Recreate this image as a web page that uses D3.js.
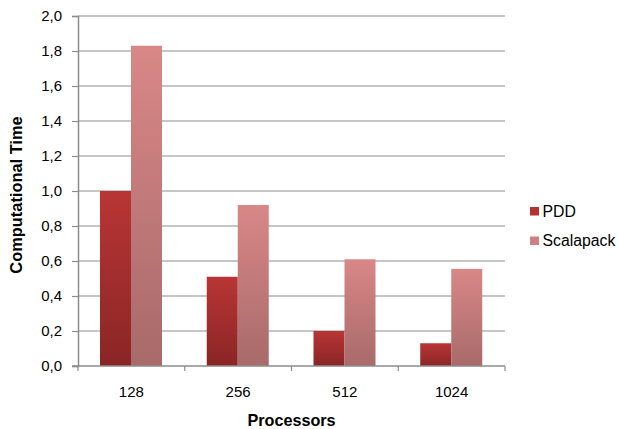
<!DOCTYPE html>
<html>
<head>
<meta charset="utf-8">
<script src="https://cdn.jsdelivr.net/npm/d3@7"></script>
<style>
  html, body { margin: 0; padding: 0; background: #fff; }
  svg text { font-family: "Liberation Sans", Arial, Helvetica, sans-serif; }
</style>
</head>
<body>
<svg id="chart" width="618" height="429"></svg>
<script>
// Computational time by processor count
const processors = ["128", "256", "512", "1024"];
const seriesNames = ["PDD", "Scalapack"];
const pdd = [1.0, 0.51, 0.20, 0.13];
const scalapack = [1.83, 0.92, 0.61, 0.555];
const yTicks = [0, 0.2, 0.4, 0.6, 0.8, 1.0, 1.2, 1.4, 1.6, 1.8, 2.0];

const svg = d3.select("#chart");
const margin = { left: 78, top: 16, right: 113, bottom: 63 };
const W = 618, H = 429;
const plotW = W - margin.left - margin.right;
const plotH = H - margin.top - margin.bottom;

const x = d3.scaleBand().domain(processors).range([0, plotW]).paddingInner(0).paddingOuter(0);
const inner = d3.scaleBand().domain(seriesNames).range([22, 22 + 62]);
const y = d3.scaleLinear().domain([0, 2]).range([plotH, 0]);

const defs = svg.append("defs");
function grad(id, top, bottom) {
  const g = defs.append("linearGradient").attr("id", id)
    .attr("x1", 0).attr("y1", 0).attr("x2", 0).attr("y2", 1);
  g.append("stop").attr("offset", "0%").attr("stop-color", top);
  g.append("stop").attr("offset", "100%").attr("stop-color", bottom);
}
grad("gPDD", "#b93535", "#8a2525");
grad("gScalapack", "#d98787", "#a86a6a");
const fills = { PDD: "url(#gPDD)", Scalapack: "url(#gScalapack)" };
const legendFills = { PDD: "#b33333", Scalapack: "#cf8080" };

const g = svg.append("g").attr("transform", `translate(${margin.left},${margin.top})`);

// horizontal gridlines
g.append("g").selectAll("line").data(yTicks.filter(d => d > 0)).join("line")
  .attr("x1", 0).attr("x2", plotW)
  .attr("y1", d => y(d)).attr("y2", d => y(d))
  .attr("stroke", "#b3b3b3").attr("stroke-width", 1.6);

// bars
const rows = processors.map((p, i) => ({ p, PDD: pdd[i], Scalapack: scalapack[i] }));
const groups = g.append("g").selectAll("g").data(rows).join("g")
  .attr("transform", d => `translate(${x(d.p)},0)`);
groups.selectAll("rect").data(d => seriesNames.map(s => ({ s, v: d[s] }))).join("rect")
  .attr("x", d => inner(d.s))
  .attr("width", inner.bandwidth())
  .attr("y", d => y(d.v))
  .attr("height", d => plotH - y(d.v))
  .attr("fill", d => fills[d.s]);

// y axis
const yAxis = g.append("g").call(
  d3.axisLeft(y).tickValues(yTicks).tickSize(6).tickPadding(10)
    .tickFormat(d => d3.format(".1f")(d).replace(".", ","))
);
yAxis.select(".domain").attr("stroke", "#8c8c8c").attr("stroke-width", 1.5);
yAxis.selectAll(".tick line").attr("stroke", "#8c8c8c").attr("stroke-width", 1.2);
yAxis.selectAll("text").attr("font-size", 15).attr("fill", "#000");

// x axis: ticks between categories
const xAxisG = g.append("g").attr("transform", `translate(0,${plotH})`);
xAxisG.append("line").attr("x1", -6).attr("x2", plotW)
  .attr("stroke", "#8c8c8c").attr("stroke-width", 1.5);
const bounds = processors.map(p => x(p)).concat([plotW]);
xAxisG.selectAll(".tk").data(bounds).join("line").attr("class", "tk")
  .attr("x1", d => d).attr("x2", d => d).attr("y1", 0).attr("y2", 5)
  .attr("stroke", "#8c8c8c").attr("stroke-width", 1.2);
xAxisG.selectAll(".lbl").data(processors).join("text").attr("class", "lbl")
  .attr("x", d => x(d) + x.bandwidth() / 2).attr("y", 31)
  .attr("text-anchor", "middle").attr("font-size", 15).text(d => d);

// axis titles
svg.append("text").attr("x", margin.left + plotW / 2).attr("y", 426)
  .attr("text-anchor", "middle").attr("font-size", 16.2).attr("font-weight", "bold")
  .text("Processors");
svg.append("text").attr("transform", `translate(22,195) rotate(-90)`)
  .attr("text-anchor", "middle").attr("font-size", 16.4).attr("font-weight", "bold")
  .text("Computational Time");

// legend
const legend = svg.append("g").attr("transform", "translate(530,207)");
const li = legend.selectAll("g").data(seriesNames).join("g")
  .attr("transform", (d, i) => `translate(0,${i * 29.5})`);
li.append("rect").attr("x", 0).attr("y", 0).attr("width", 9).attr("height", 8.5)
  .attr("fill", d => legendFills[d]);
li.append("text").attr("x", 12.5).attr("y", 9.7).attr("font-size", 15.8).text(d => d);
</script>
</body>
</html>
